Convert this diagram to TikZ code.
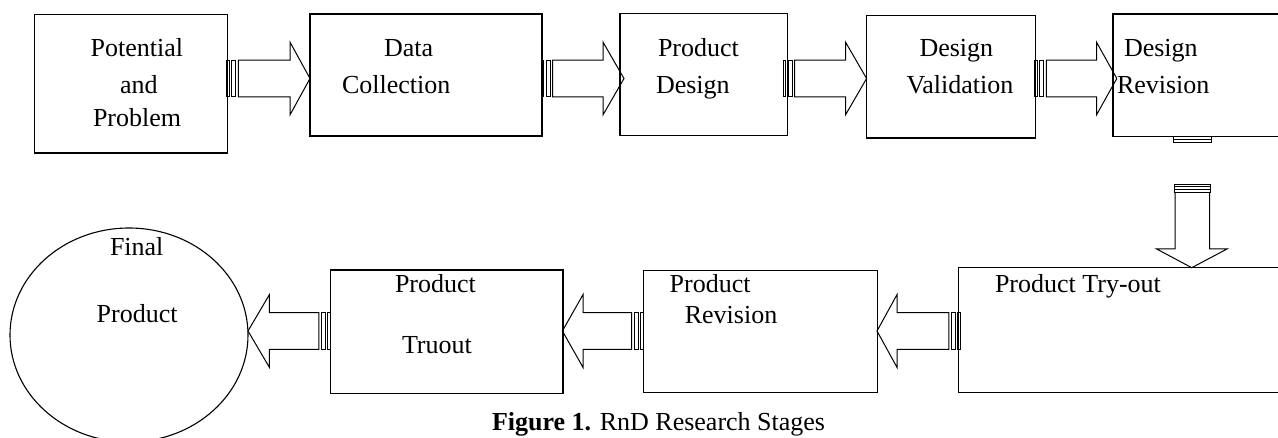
\documentclass[tikz,border=0pt]{standalone}
\usepackage{fontspec}
\setmainfont{Liberation Serif}
\usetikzlibrary{shapes.geometric}
\tikzset{
  boxnode/.style={draw, line width=1.1pt, inner sep=0pt, outer sep=0pt, anchor=north west},
  blk/.style={draw, line width=1.0pt, line join=miter},
  lbl/.style={anchor=base west, inner sep=0pt, outer sep=0pt, font=\fontsize{26}{31}\selectfont}
}
% right-pointing striped block arrow: #1 tail x, #2 head base x, #3 tip x, #4 centre y
\newcommand{\RStripeArrow}[4]{%
  \draw[blk] (#1,#4-18.3) rectangle (#1+2.7,#4+18.3);
  \draw[blk] (#1+5,#4-18.3) rectangle (#1+9,#4+18.3);
  \draw[blk] (#1+11.7,#4-18.3) -- (#2,#4-18.3) -- (#2,#4-36.4) -- (#3,#4)
     -- (#2,#4+36.4) -- (#2,#4+18.3) -- (#1+11.7,#4+18.3) -- cycle;
}
% left-pointing striped block arrow
\newcommand{\LStripeArrow}[4]{%
  \draw[blk] (#1,#4-18.3) rectangle (#1-2.7,#4+18.3);
  \draw[blk] (#1-5,#4-18.3) rectangle (#1-9,#4+18.3);
  \draw[blk] (#1-11.7,#4-18.3) -- (#2,#4-18.3) -- (#2,#4-36.4) -- (#3,#4)
     -- (#2,#4+36.4) -- (#2,#4+18.3) -- (#1-11.7,#4+18.3) -- cycle;
}
\begin{document}
\begin{tikzpicture}[x=1pt,y=-1pt]
\useasboundingbox (0,0) rectangle (1278,438);
\clip (0,0) rectangle (1278,438);

% boxes
\node[boxnode, minimum width=193.1pt, minimum height=138.3pt] (b1) at (34.7,14.7) {};
\node[boxnode, minimum width=232pt, minimum height=122pt] (b2) at (310,14) {};
\node[boxnode, minimum width=167.4pt, minimum height=122.4pt] (b3) at (620,13.3) {};
\node[boxnode, minimum width=168.8pt, minimum height=122.3pt] (b4) at (866.6,15.7) {};
\node[boxnode, minimum width=177pt, minimum height=122.3pt] (b5) at (1113,14) {};
\node[boxnode, minimum width=331.5pt, minimum height=125pt] (b6) at (958.5,267.7) {};
\node[boxnode, minimum width=233.9pt, minimum height=122.4pt] (b7) at (643.3,270.3) {};
\node[boxnode, minimum width=232.4pt, minimum height=123.3pt] (b8) at (330.6,270) {};
\node[draw, ellipse, line width=1.1pt, inner sep=0pt, outer sep=0pt,
      minimum width=238pt, minimum height=214pt] (fp) at (129,335) {};

% labels
\node[lbl] (t1a) at (90.6,56.7) {Potential};
\node[lbl] (t1b) at (120,93.3) {and};
\node[lbl] (t1c) at (93,126.7) {Problem};
\node[lbl] (t2a) at (384,57) {Data};
\node[lbl] (t2b) at (342,94) {Collection};
\node[lbl] (t3a) at (658,57) {Product};
\node[lbl] (t3b) at (656,94) {Design};
\node[lbl] (t4a) at (919.5,57) {Design};
\node[lbl] (t4b) at (906.5,94) {Validation};
\node[lbl] (t5a) at (1124,57) {Design};
\node[lbl] (t5b) at (1117,94) {Revision};
\node[lbl] (t6) at (995,292.7) {Product Try-out};
\node[lbl] (t7a) at (669.7,292.7) {Product};
\node[lbl] (t7b) at (684.8,323.3) {Revision};
\node[lbl] (t8a) at (395,292.7) {Product};
\node[lbl] (t8b) at (402,353.3) {Truout};
\node[lbl] (t9a) at (110,255.7) {Final};
\node[lbl] (t9b) at (96.7,322.7) {Product};
\node[lbl] (cap) at (492,431) {\textbf{Figure 1.} RnD Research Stages};

% row 1 arrows
\RStripeArrow{226.7}{290}{310}{78.5}
\RStripeArrow{541}{603}{624}{78.5}
\RStripeArrow{783}{845.5}{866.6}{78.5}
\RStripeArrow{1034.6}{1096.5}{1116.8}{78.5}

% down arrow from Design Revision to Product Try-out
\draw[blk] (1173,136.7) rectangle (1211.7,142.7);
\draw[blk] (1173,139.7) -- (1211.7,139.7);
\draw[blk] (1174,184.3) rectangle (1210.5,192.7);
\draw[blk] (1174,186.5) -- (1210.5,186.5);
\draw[blk] (1174,190) -- (1210.5,190);
\draw[blk] (1175,192.7) -- (1175,249) -- (1156.7,249) -- (1191.7,267.7)
   -- (1227,249) -- (1209.5,249) -- (1209.5,192.7);

% row 2 arrows
\LStripeArrow{960.6}{897}{877}{331}
\LStripeArrow{643.3}{583}{562.4}{331}
\LStripeArrow{330.6}{269.4}{248}{331}
\end{tikzpicture}
\end{document}
